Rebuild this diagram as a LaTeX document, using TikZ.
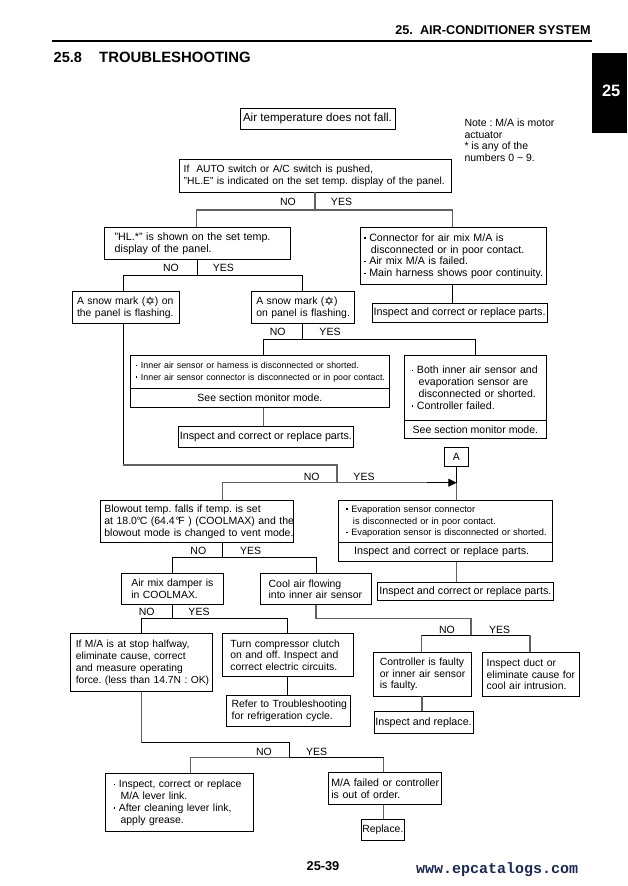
\documentclass[tikz,border=0pt]{standalone}
\usepackage{fontspec}
\setmainfont{Liberation Sans}
\newfontfamily\sitefont{Liberation Mono}
\newfontfamily\symfont{DejaVu Sans}
\usepackage{tikz}
\usetikzlibrary{positioning, arrows.meta}
\definecolor{sitenavy}{HTML}{1B2A55}
\frenchspacing
\tikzset{x=1pt, y=-1pt, fs/.style={font=\fontsize{#1}{11.8}\selectfont}}
\tikzstyle{process} = [rectangle, draw=black, line width=0.75pt, anchor=north west, align=left, inner ysep=0pt, fs=10.4, execute at begin node={\rightskip=-80pt plus 1fil\relax}]
\tikzstyle{answer}  = [inner sep=0pt, fs=10.5]
\tikzstyle{note}    = [inner sep=0pt, anchor=west, align=left, fs=10.5]
\tikzstyle{branch}  = [draw=black, line width=0.75pt]
\tikzstyle{soft}    = [draw=black!62, line width=1.1pt]
\newcommand{\snowmark}{(\raisebox{-0.6pt}{\symfont\fontsize{11.5}{10}\selectfont ✡})}
\newcommand{\bul}{\raisebox{2.7pt}{\rule{1.3pt}{1.3pt}}\kern3.6pt}
\newcommand{\hang}{\hspace*{6.6pt}}

\begin{document}
\begin{tikzpicture}
            \useasboundingbox (0,0) rectangle (627,886);
            \fill[white] (0,0) rectangle (627,886);

            % page furniture
            \node[note, anchor=east, font=\bfseries\fontsize{12.7}{14}\selectfont] (header) at (591,30) {25.\ \ AIR-CONDITIONER SYSTEM};
            \node[note, font=\bfseries\fontsize{14.6}{16}\selectfont] (secnum) at (53.5,57.7) {25.8};
            \node[note, font=\bfseries\fontsize{14.9}{16}\selectfont] (sectitle) at (99,57.7) {TROUBLESHOOTING};
            \node[fill=black, minimum width=35pt, minimum height=80pt, inner sep=0pt, anchor=north west, text=white, font=\bfseries\fontsize{16.5}{16}\selectfont] (tab) at (592,53) {\hspace*{3pt}\raisebox{5pt}{25}};
            \coordinate (ruleleft) at (52,41);
            \coordinate (ruleright) at (592,41);
            \draw[line width=1.6pt] (ruleleft) -- (ruleright);
            \node[note, anchor=north west] (mnote) at (464.3,118.5) {Note : M/A is motor\\actuator\\* is any of the\\numbers 0 \textasciitilde\ 9.};

            % boxes, top to bottom
            \node[process, fs=11.6, minimum width=155pt, minimum height=20.4pt, inner xsep=0pt] (start) at (239.6,108.3) {Air temperature does not fall.};
            \node[process, fs=10.3, minimum height=32.4pt, inner xsep=4pt, text width=263.6pt] (hle) at (179.3,159.3) {If\ \ AUTO switch or A/C switch is pushed,\\"HL.E" is indicated on the set temp. display of the panel.};
            \node[process, fs=10.7, minimum height=32pt, inner xsep=10pt, text width=165.4pt] (hlstar) at (104.3,227.3) {"HL.*" is shown on the set temp.\\display of the panel.};
            \node[process, fs=10.65, minimum height=57pt, inner xsep=3.7pt, text width=178pt] (harness) at (360.3,227.3) {\bul Connector for air mix M/A is\\\hang disconnected or in poor contact.\\\bul Air mix M/A is failed.\\\bul Main harness shows poor continuity.};
            \node[process, fs=10.75, minimum width=175pt, minimum height=19pt, inner xsep=0pt] (fixa) at (371.7,303.3) {Inspect and correct or replace parts.};
            \node[process, minimum height=32.3pt, inner xsep=4.4pt, text width=97.6pt] (snowa) at (72.3,291) {A snow mark \snowmark\ on\\the panel is flashing.};
            \node[process, minimum height=32.3pt, inner xsep=4.6pt, text width=93.2pt] (snowb) at (251.3,291) {A snow mark \snowmark\\on panel is flashing.};
            \node[process, fs=8.85, minimum height=33pt, inner xsep=5.4pt, text width=247.6pt] (inner) at (130.3,355.3) {\bul Inner air sensor or harness is disconnected or shorted.\\\bul Inner air sensor connector is disconnected or in poor contact.};
            \node[process, fs=10.5, minimum width=258.4pt, minimum height=19pt, inner xsep=0pt] (seea) at (130.3,388.3) {See section monitor mode.};
            \node[process, fs=10.75, minimum width=174.4pt, minimum height=20.4pt, inner xsep=0pt] (fixb) at (178.3,426.3) {Inspect and correct or replace parts.};
            \node[process, fs=10.6, minimum height=64.4pt, inner xsep=7.4pt, text width=126.6pt] (both) at (404.3,355.3) {\bul Both inner air sensor and\\\hang evaporation sensor are\\\hang disconnected or shorted.\\\bul Controller failed.};
            \node[process, fs=10.55, minimum width=141.4pt, minimum height=18.6pt, inner xsep=0pt] (seeb) at (404.3,419.7) {See section monitor mode.};
            \node[process, fs=10.5, minimum width=23.4pt, minimum height=19pt, inner xsep=0pt] (conna) at (444.3,447.3) {A};
            \node[process, fs=10.5, minimum height=42pt, inner xsep=3.7pt, text width=185pt] (blowout) at (100.3,500.3) {Blowout temp. falls if temp. is set\\at 18.0\kern-0.5pt°\kern-1ptC (64.4\kern0.5pt°\kern-1ptF ) (COOLMAX) and the\\blowout mode is changed to vent mode.};
            \node[process, fs=9.25, minimum height=42pt, inner xsep=7.7pt, text width=198pt] (evap) at (338.3,500.3) {\bul Evaporation sensor connector\\\hang is disconnected or in poor contact.\\\bul Evaporation sensor is disconnected or shorted.};
            \node[process, fs=10.75, minimum height=19pt, inner xsep=15.4pt, text width=182.6pt] (seec) at (338.3,542.3) {Inspect and correct or replace parts.};
            \node[process, fs=10.75, minimum width=175.4pt, minimum height=18.6pt, inner xsep=0pt] (fixc) at (377.3,581.7) {Inspect and correct or replace parts.};
            \node[process, minimum height=31pt, inner xsep=9.7pt, text width=82pt] (damper) at (121.3,573.3) {Air mix damper is\\in COOLMAX.};
            \node[process, fs=10.45, minimum height=31pt, inner xsep=8pt, text width=94.4pt] (cool) at (260.3,573.3) {Cool air flowing\\into inner air sensor};
            \node[process, fs=10.3, minimum height=58pt, inner xsep=5pt, text width=131.8pt] (halfway) at (70.4,633.3) {If M/A is at stop halfway,\\eliminate cause, correct\\and measure operating\\force. (less than 14.7N : OK)};
            \node[process, minimum height=43pt, inner xsep=8pt, text width=115pt] (clutch) at (222,633.3) {Turn compressor clutch\\on and off. Inspect and\\correct electric circuits.};
            \node[process, minimum height=31pt, inner xsep=5.3pt, text width=113.4pt] (refer) at (226,695.3) {Refer to Troubleshooting\\for refrigeration cycle.};
            \node[process, minimum height=43.4pt, inner xsep=6.6pt, text width=84.7pt] (faulty) at (372.8,652.3) {Controller is faulty\\or inner air sensor\\is faulty.};
            \node[process, minimum height=43.4pt, inner xsep=4.8pt, text width=87.9pt] (duct) at (481.5,652.3) {Inspect duct or\\eliminate cause for\\cool air intrusion.};
            \node[process, fs=10.7, minimum width=98.7pt, minimum height=22pt, inner xsep=0pt] (repla) at (373.8,711.3) {Inspect and replace.};
            \node[process, fs=10.45, minimum height=58pt, inner xsep=9pt, text width=130.1pt] (lever) at (104.6,773.3) {\bul Inspect, correct or replace\\\hang M/A lever link.\\\bul After cleaning lever link,\\\hang apply grease.};
            \node[process, fs=10.6, minimum height=32pt, inner xsep=3.5pt, text width=106.1pt] (failed) at (327.5,772.3) {M/A failed or controller\\is out of order.};
            \node[process, fs=10.4, minimum width=43.6pt, minimum height=21pt, inner xsep=0pt] (replb) at (360.7,819.3) {Replace.};

            % NO / YES labels
            \node[answer] (noa)  at (288,202)     {NO};
            \node[answer] (yesa) at (341.5,202)   {YES};
            \node[answer] (nob)  at (171,268.3)   {NO};
            \node[answer] (yesb) at (223.3,268.3) {YES};
            \node[answer] (noc)  at (277.7,332.3) {NO};
            \node[answer] (yesc) at (330,332.3)   {YES};
            \node[answer] (nod)  at (311.7,477)   {NO};
            \node[answer] (yesd) at (364,477)     {YES};
            \node[answer] (noe)  at (198.3,551)   {NO};
            \node[answer] (yese) at (250.7,551)   {YES};
            \node[answer] (nof)  at (146.7,612)   {NO};
            \node[answer] (yesf) at (199,612)     {YES};
            \node[answer] (nog)  at (446.9,630)   {NO};
            \node[answer] (yesg) at (499.5,630)   {YES};
            \node[answer] (noh)  at (264,752)     {NO};
            \node[answer] (yesh) at (316.7,752)   {YES};

            % footer
            \node[answer, font=\bfseries\fontsize{12.8}{14}\selectfont] (pageno) at (323,866) {25-39};
            \node[answer, anchor=east, text=sitenavy, font=\sitefont\bfseries\fontsize{15}{16}\selectfont] (site) at (578.3,870) {www.epcatalogs.com};

            % connectors
            \coordinate (splita) at (315,210);
            \coordinate (splitb) at (197.3,275.7);
            \coordinate (splitc) at (302.3,339.3);
            \coordinate (joind)  at (337,482.7);
            \coordinate (splite) at (222.7,557.3);
            \coordinate (splitf) at (172.3,618.7);
            \coordinate (splitg) at (471,635.3);
            \coordinate (splith) at (289.4,757.7);

            \draw[soft] (hle.south -| splita) -- (splita);
            \draw[soft] (hlstar.north -| 196.6,0) -- (196.6,210) -- (452.7,210) -- (harness.north -| 452.7,0);
            \draw[branch] (harness.south -| 452.3,0) -- (fixa.north -| 452.3,0);

            \draw[branch] (hlstar.south -| splitb) -- (splitb);
            \draw[branch] (snowa.north -| 123.3,0) -- (123.3,275.7) -- (302.3,275.7) -- (snowb.north -| 302.3,0);

            \draw[branch] (snowb.south -| splitc) -- (splitc);
            \draw[branch] (inner.north -| 263.3,0) -- (263.3,339.3) -- (475.3,339.3) -- (both.north -| 475.3,0);
            \draw[soft] (seea.south -| 263.3,0) -- (fixb.north -| 263.3,0);

            \draw[branch] (snowa.south -| 123.3,0) -- (123.3,465);
            \draw[soft] (123.3,465) -- (337,465) -- (joind);
            \draw[soft] (blowout.north -| splite) -- (222.7,482.7) -- (conna.south |- joind);
            \draw[branch, -{Triangle[length=8pt, width=8pt]}] (427,482.7) -- (conna.south |- joind);
            \draw[branch] (conna.south) -- (conna.south |- joind);
            \draw[soft] (conna.south |- joind) -- (evap.north -| conna.south);
            \draw[soft] (seec.south -| conna.south) -- (fixc.north -| conna.south);

            \draw[branch] (blowout.south -| splite) -- (splite);
            \draw[branch] (damper.north -| splitf) -- (172.3,557.3) -- (316.3,557.3) -- (cool.north -| 316.3,0);

            \draw[branch] (damper.south -| splitf) -- (splitf);
            \draw[branch] (halfway.north -| 141.3,0) -- (141.3,618.7) -- (287.7,618.7) -- (clutch.north -| 287.7,0);
            \draw[branch] (clutch.south -| 287.7,0) -- (refer.north -| 287.7,0);

            \draw[soft] (cool.south -| 316,0) -- (316,618.7) -- (471,618.7) -- (splitg);
            \draw[branch] (421.6,635.3) -- (530,635.3);
            \draw[soft] (faulty.north -| 421.6,0) -- (421.6,635.3);
            \draw[soft] (530,635.3) -- (duct.north -| 530,0);
            \draw[soft] (faulty.south -| 422,0) -- (repla.north -| 422,0);

            \draw[soft] (halfway.south -| 141.7,0) -- (141.7,742.7);
            \draw[branch] (141.7,742.7) -- (289.4,742.7) -- (splith);
            \draw[soft] (lever.north -| 190.4,0) -- (190.4,757.7) -- (289.4,757.7);
            \draw[branch] (289.4,757.7) -- (383.5,757.7);
            \draw[soft] (383.5,757.7) -- (failed.north -| 383.5,0);
            \draw[soft] (failed.south -| 383.5,0) -- (replb.north -| 383.5,0);
        \end{tikzpicture}
\end{document}
